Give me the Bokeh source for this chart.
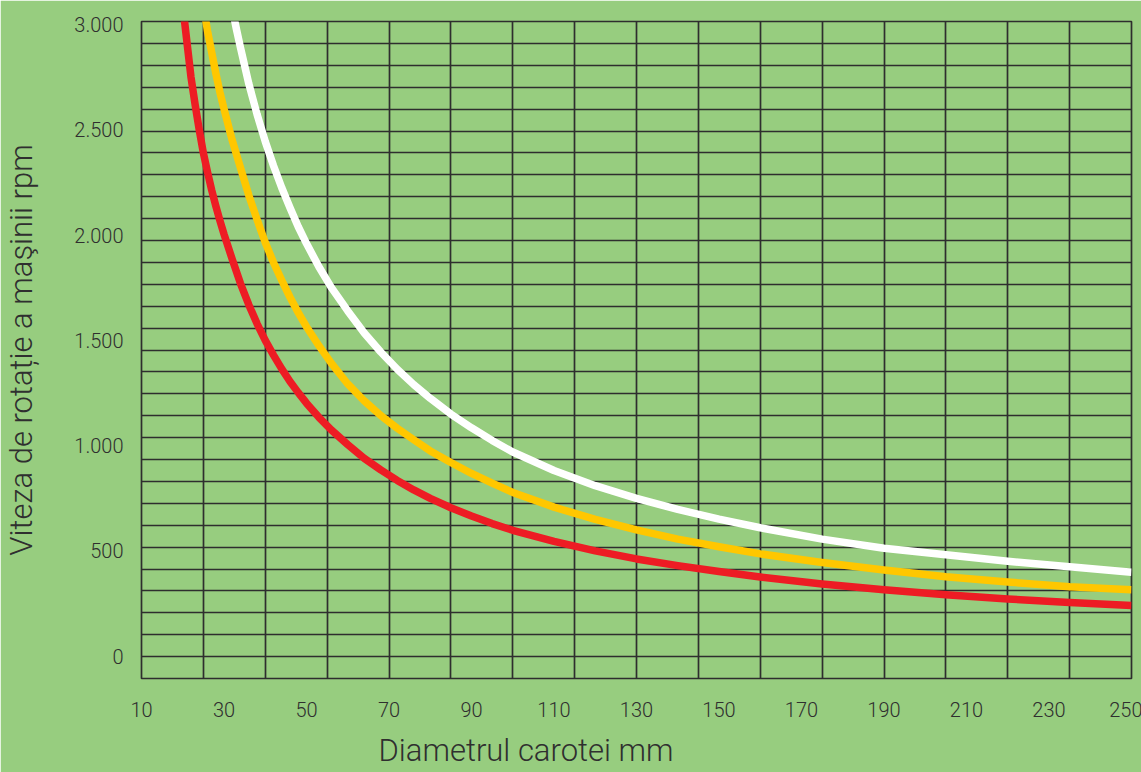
import numpy as np
from bokeh.plotting import figure
from bokeh.models import FixedTicker, Range1d, Title
from bokeh.embed import file_html
from bokeh.resources import INLINE

# ---------------- data ----------------
diam_red = [20, 21, 22, 23, 24, 25, 26, 27, 28, 29, 30, 32, 34, 36, 38, 40, 42, 44, 46, 48, 50,
            53, 56, 60, 64, 68, 72, 76, 80, 85, 90, 95, 100, 110, 120, 130, 140, 150, 160, 175,
            190, 205, 220, 235, 250]
rpm_red = [3090, 2920, 2750, 2620, 2500, 2390, 2300, 2215, 2140, 2070, 2005, 1885, 1770, 1670,
           1580, 1500, 1430, 1365, 1305, 1252, 1202, 1135, 1075, 1005, 940, 885, 835, 790, 750,
           705, 666, 630, 598, 545, 500, 462, 430, 402, 376, 343, 316, 292, 272, 255, 241]

diam_yellow = [25, 26, 27, 28, 29, 30, 32, 34, 36, 38, 40, 42, 44, 46, 48, 50, 53, 56, 60, 64,
               68, 72, 76, 80, 85, 90, 95, 100, 110, 120, 130, 140, 150, 160, 175, 190, 205, 220,
               235, 250]
rpm_yellow = [3090, 2970, 2870, 2770, 2680, 2600, 2450, 2320, 2190, 2075, 1965, 1870, 1785, 1705,
              1632, 1565, 1475, 1392, 1293, 1213, 1143, 1083, 1028, 975, 920, 868, 822, 778, 708,
              650, 600, 556, 520, 486, 445, 409, 377, 352, 330, 316]

diam_white = [32, 33, 34, 35, 36, 38, 40, 42, 44, 46, 48, 50, 53, 56, 60, 64, 68, 72, 76, 80,
              85, 90, 95, 100, 110, 120, 130, 140, 150, 160, 175, 190, 205, 220, 235, 250]
rpm_white = [3075, 2980, 2890, 2805, 2720, 2575, 2445, 2330, 2225, 2130, 2040, 1960, 1850, 1752,
             1640, 1535, 1445, 1363, 1290, 1225, 1150, 1085, 1025, 970, 882, 810, 750, 697, 651,
             610, 556, 513, 482, 451, 425, 399]

x_ticks = [10, 30, 50, 70, 90, 110, 130, 150, 170, 190, 210, 230, 250]
y_ticks = [0, 500, 1000, 1500, 2000, 2500, 3000]
y_tick_labels = ["0", "500", "1.000", "1.500", "2.000", "2.500", "3.000"]

x_title = "Diametrul carotei mm"
y_title = "Viteza de rotație a maşinii rpm"

# ---------------- styling ----------------
GREEN = "#97CD7F"
RED = "#ED1C24"
YELLOW = "#FFC700"
WHITE = "#FFFFFF"
GRID = "#2E2E2E"
TEXT = "#2F2F2F"
FONT = "'Roboto Light', Roboto"

X_MIN, X_MAX = 10, 250
Y_MIN, Y_MAX = -106, 3015

p = figure(
    frame_width=990, frame_height=657,
    min_border_left=140, min_border_right=11, min_border_top=21, min_border_bottom=94,
    x_range=Range1d(X_MIN, X_MAX), y_range=Range1d(Y_MIN, Y_MAX),
    output_backend="svg", toolbar_location=None,
    background_fill_color=GREEN, border_fill_color=GREEN,
    outline_line_color=GRID, outline_line_width=1.7,
)

# decorative grid: vertical every 15 mm, horizontal 30 equal bands
p.xgrid.ticker = FixedTicker(ticks=list(range(X_MIN, X_MAX + 1, 15)))
p.ygrid.ticker = FixedTicker(ticks=list(np.linspace(Y_MIN, Y_MAX, 31)))
for g in (p.xgrid, p.ygrid):
    g.grid_line_color = GRID
    g.grid_line_width = 1.7
    g.grid_line_alpha = 1.0

p.xaxis.ticker = FixedTicker(ticks=x_ticks)
p.yaxis.ticker = FixedTicker(ticks=y_ticks)
p.yaxis.major_label_overrides = {t: s for t, s in zip(y_ticks, y_tick_labels)}

for ax in (p.xaxis, p.yaxis):
    ax.axis_line_color = None
    ax.major_tick_line_color = None
    ax.minor_tick_line_color = None
    ax.major_tick_out = 0
    ax.major_tick_in = 0
    ax.minor_tick_out = 0
    ax.minor_tick_in = 0
    ax.major_label_text_font = FONT
    ax.major_label_text_font_size = "20px"
    ax.major_label_text_color = TEXT
p.xaxis.major_label_standoff = 23
p.yaxis.major_label_standoff = 18

p.yaxis.axis_label = y_title
p.yaxis.axis_label_text_font = FONT
p.yaxis.axis_label_text_font_size = "31px"
p.yaxis.axis_label_text_font_style = "normal"
p.yaxis.axis_label_text_color = TEXT
p.yaxis.axis_label_standoff = 31

p.line(diam_red, rpm_red, line_color=RED, line_width=7.5, line_join="round")
p.line(diam_yellow, rpm_yellow, line_color=YELLOW, line_width=7.5, line_join="round")
p.line(diam_white, rpm_white, line_color=WHITE, line_width=7.5, line_join="round")

p.add_layout(Title(text=x_title, align="left", offset=237, standoff=20,
                   text_font=FONT, text_font_size="31px", text_font_style="normal",
                   text_color=TEXT), "below")

open("out.html", "w").write(file_html(p, INLINE))
